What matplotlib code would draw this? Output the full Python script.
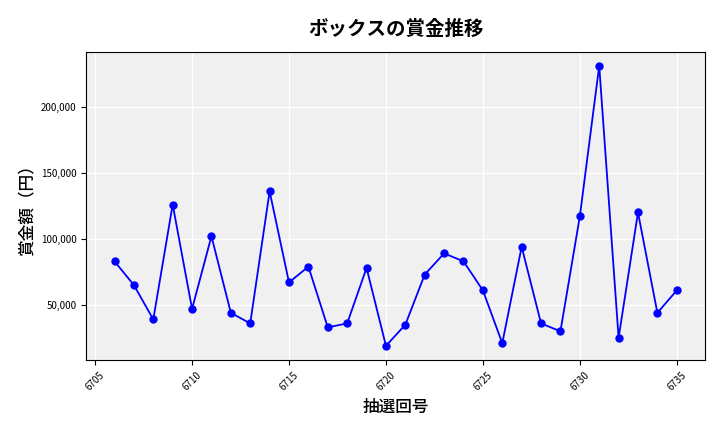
import matplotlib
matplotlib.use("Agg")
import matplotlib.pyplot as plt
from matplotlib.ticker import FuncFormatter

plt.rcParams['font.family'] = ['Noto Sans CJK JP', 'DejaVu Sans']

draws = list(range(6706, 6736))
prizes = [83000, 65000, 39000, 126000, 47000, 102000, 44000, 36000, 136000, 67000,
          79000, 33000, 36000, 78000, 19000, 35000, 73000, 89000, 83000, 61000,
          21000, 94000, 36000, 30000, 117000, 231000, 25000, 120000, 44000, 61000]

fig = plt.figure(figsize=(7.2, 4.32), dpi=100)
ax = fig.add_axes([0.12, 0.167, 0.859, 0.713])
ax.set_facecolor('#f0f0f0')
ax.grid(True, color='white', linewidth=1)
ax.set_axisbelow(True)
ax.plot(draws, prizes, color='blue', marker='o', markersize=5, linewidth=1.3)
ax.set_xticks(range(6705, 6736, 5))
ax.tick_params(axis='x', labelrotation=45, labelsize=7)
ax.tick_params(axis='y', labelsize=7)
ax.yaxis.set_major_formatter(FuncFormatter(lambda v, p: f'{int(v):,}'))
ax.set_xlabel('抽選回号', fontsize=12, fontweight='medium')
ax.set_ylabel('賞金額（円）', fontsize=12, fontweight='medium')
ax.set_title('ボックスの賞金推移', fontsize=14, fontweight='bold', pad=12)
fig.savefig('out.png')
